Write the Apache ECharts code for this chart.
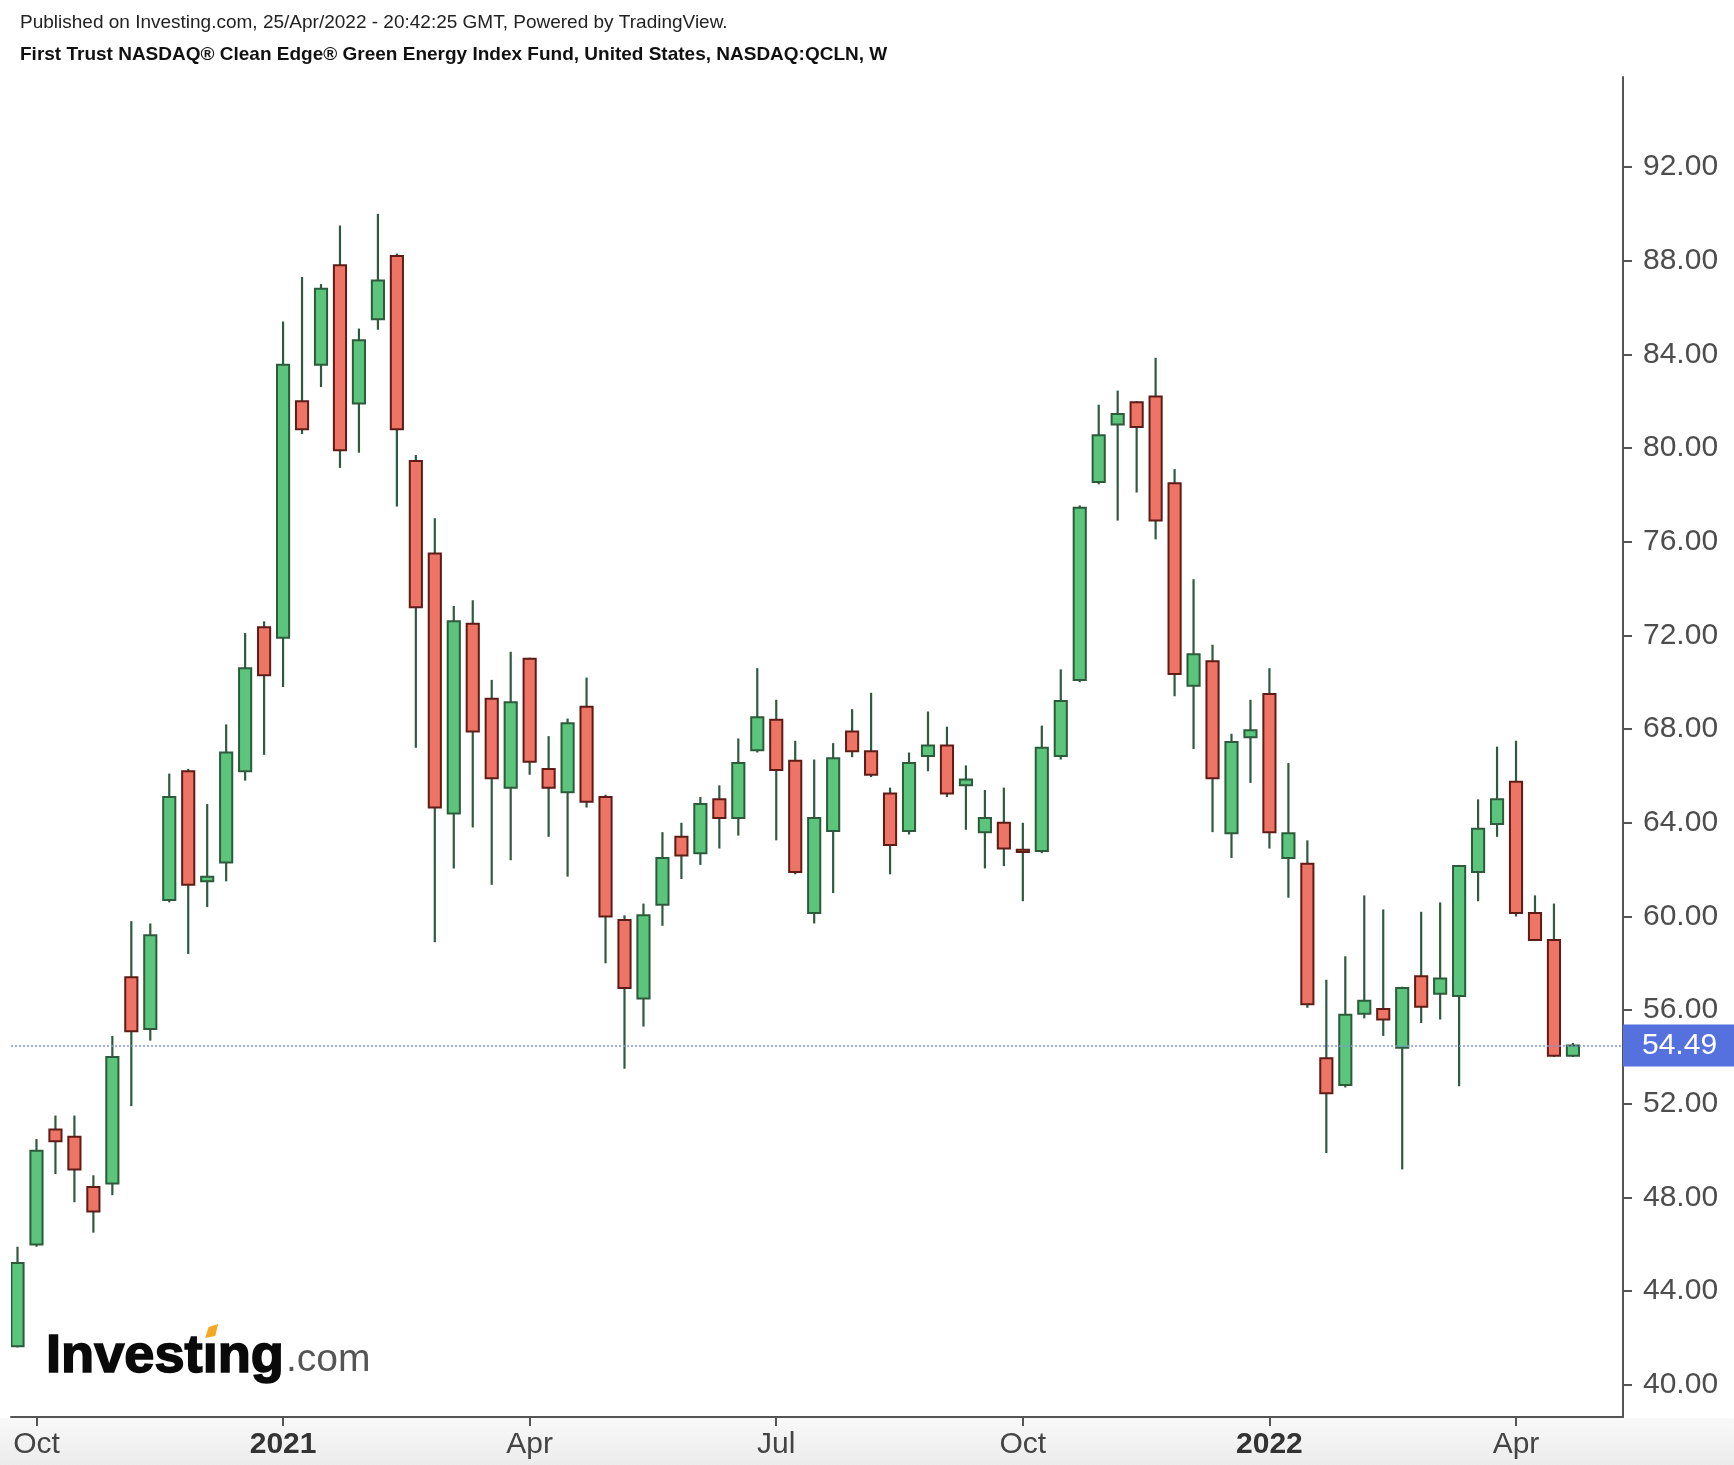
<!DOCTYPE html>
<html>
<head>
<meta charset="utf-8">
<script src="https://cdn.jsdelivr.net/npm/echarts@6/dist/echarts.min.js"></script>
<style>
html,body{margin:0;padding:0;background:#ffffff;}
#chart{width:1734px;height:1465px;}
</style>
</head>
<body>
<div id="chart"></div>
<script>
// ---- Data (weekly bars, QCLN) ----
const dates = [
  '2020-09-28','2020-10-05','2020-10-12','2020-10-19','2020-10-26','2020-11-02','2020-11-09','2020-11-16','2020-11-23','2020-11-30',
  '2020-12-07','2020-12-14','2020-12-21','2020-12-28','2021-01-04','2021-01-11','2021-01-18','2021-01-25','2021-02-01','2021-02-08',
  '2021-02-15','2021-02-22','2021-03-01','2021-03-08','2021-03-15','2021-03-22','2021-03-29','2021-04-05','2021-04-12','2021-04-19',
  '2021-04-26','2021-05-03','2021-05-10','2021-05-17','2021-05-24','2021-05-31','2021-06-07','2021-06-14','2021-06-21','2021-06-28',
  '2021-07-05','2021-07-12','2021-07-19','2021-07-26','2021-08-02','2021-08-09','2021-08-16','2021-08-23','2021-08-30','2021-09-06',
  '2021-09-13','2021-09-20','2021-09-27','2021-10-04','2021-10-11','2021-10-18','2021-10-25','2021-11-01','2021-11-08','2021-11-15',
  '2021-11-22','2021-11-29','2021-12-06','2021-12-13','2021-12-20','2021-12-27','2022-01-03','2022-01-10','2022-01-17','2022-01-24',
  '2022-01-31','2022-02-07','2022-02-14','2022-02-21','2022-02-28','2022-03-07','2022-03-14','2022-03-21','2022-03-28','2022-04-04',
  '2022-04-11','2022-04-18','2022-04-25'
];
const opens = [
  41.65,46.0,50.9,50.6,48.45,48.6,57.4,55.2,60.7,66.2,
  61.5,62.3,66.2,72.35,71.9,82.0,83.55,87.8,81.9,85.5,
  88.2,79.45,75.5,64.4,72.5,69.3,65.5,71.0,66.3,65.3,
  68.95,65.1,59.85,56.5,60.5,63.4,62.7,65.0,64.2,67.1,
  68.4,66.65,60.15,63.65,67.9,67.05,65.25,63.65,66.85,67.3,
  65.6,63.6,64.0,62.85,62.8,66.85,70.1,78.55,81.0,81.95,
  82.2,78.5,69.85,70.9,63.55,67.65,69.5,62.5,62.25,53.95,
  52.8,55.85,56.05,54.4,57.45,56.7,56.6,61.9,63.95,65.75,
  60.15,59.0,54.05
];
const highs = [
  45.9,50.5,51.5,51.5,48.95,54.9,59.8,59.7,66.1,66.3,
  64.8,68.2,72.1,72.6,85.4,87.3,87.0,89.5,85.1,90.0,
  88.3,79.7,77.0,73.25,73.5,70.1,71.3,71.05,67.7,68.45,
  70.2,65.2,60.05,60.55,63.6,64.0,65.1,65.6,67.6,70.6,
  69.25,67.5,66.7,67.4,68.85,69.55,65.5,67.0,68.75,68.1,
  66.45,65.4,65.5,64.0,68.15,70.55,77.55,81.85,82.45,82.0,
  83.85,79.1,74.4,71.6,67.8,69.25,70.6,66.55,63.25,57.3,
  58.3,60.9,60.3,57.0,60.2,60.6,62.2,65.0,67.25,67.5,
  60.9,60.55,54.6
];
const lows = [
  41.6,45.9,49.0,47.8,46.5,48.1,51.9,54.7,60.6,58.4,
  60.4,61.5,65.8,66.9,69.8,80.6,82.6,79.15,79.8,85.05,
  77.5,67.2,58.9,62.05,63.8,61.35,62.4,66.05,63.4,61.7,
  64.65,58.0,53.5,55.3,59.6,61.6,62.2,62.9,63.45,67.0,
  63.25,61.8,59.7,61.0,66.8,65.95,61.8,63.5,66.2,65.1,
  63.7,62.05,62.15,60.65,62.7,66.7,70.0,78.45,76.9,78.1,
  76.1,69.4,67.15,63.6,62.5,65.7,62.9,60.8,56.1,49.9,
  52.7,55.65,54.9,49.2,55.45,55.6,52.75,60.65,63.4,60.0,
  58.95,54.0,54.0
];
const closes = [
  45.2,50.0,50.4,49.2,47.4,54.0,55.1,59.2,65.1,61.35,
  61.7,67.0,70.6,70.3,83.55,80.8,86.8,79.9,84.6,87.15,
  80.8,73.2,64.65,72.6,67.9,65.9,69.15,66.6,65.5,68.25,
  64.9,60.0,56.95,60.05,62.5,62.6,64.8,64.2,66.55,68.5,
  66.25,61.9,64.2,66.75,67.05,66.05,63.05,66.55,67.3,65.25,
  65.85,64.2,62.9,62.75,67.2,69.2,77.45,80.55,81.45,80.9,
  76.9,70.35,71.2,65.9,67.45,67.95,63.6,63.55,56.25,52.45,
  55.8,56.4,55.6,56.95,56.15,57.35,62.15,63.75,65.0,60.15,
  59.0,54.05,54.49
];
const yTickValues = [40,44,48,52,56,60,64,68,72,76,80,84,88,92];
const xTickDates = ['2020-10-05','2021-01-04','2021-04-05','2021-07-05','2021-10-04','2022-01-03','2022-04-04'];
const xTickLabels = ['Oct','2021','Apr','Jul','Oct','2022','Apr'];
const lastPrice = closes[closes.length - 1];

// ---- Build ----
const seriesData = dates.map((d, i) => [i, opens[i], closes[i], lows[i], highs[i]]);
const xTickIdx = xTickDates.map(d => dates.indexOf(d));

const UP_FILL = '#5bc57b', UP_BORDER = '#2c5b3c';
const DOWN_FILL = '#ee7465', DOWN_BORDER = '#5e1c16';
const WICK = '#2f5a3f';

function renderItem(params, api) {
  const i = api.value(0);
  const o = api.value(1), c = api.value(2), l = api.value(3), h = api.value(4);
  const pO = api.coord([i, o]);
  const pC = api.coord([i, c]);
  const pL = api.coord([i, l]);
  const pH = api.coord([i, h]);
  const w = api.size([1, 0])[0] * 0.64;
  const up = c >= o;
  const x = pO[0];
  const top = Math.min(pO[1], pC[1]);
  const bh = Math.max(Math.abs(pO[1] - pC[1]), 1.5);
  return {
    type: 'group',
    children: [
      { type: 'line', shape: { x1: x, y1: pH[1], x2: x, y2: pL[1] },
        style: { stroke: WICK, lineWidth: 2.2 } },
      { type: 'rect', shape: { x: x - w / 2, y: top, width: w, height: bh },
        style: { fill: up ? UP_FILL : DOWN_FILL, stroke: up ? UP_BORDER : DOWN_BORDER, lineWidth: 2 } }
    ]
  };
}

const FONT = '"Liberation Sans", Arial, Helvetica, sans-serif';

// ---- Logo layout (measure text so the orange tittle sits on the "i") ----
const mctx = document.createElement('canvas').getContext('2d');
mctx.font = 'bold 100px ' + FONT;
const LOGO_X = 46, LOGO_W = 238;
const logoSize = 100 * LOGO_W / mctx.measureText('Investing').width;
mctx.font = 'bold ' + logoSize + 'px ' + FONT;
const iCenter = LOGO_X + mctx.measureText('Invest').width + mctx.measureText('i').width / 2;
const comX = LOGO_X + mctx.measureText('Investing').width + 2;

const chart = echarts.init(document.getElementById('chart'), null, { renderer: 'canvas' });
chart.setOption({
  animation: false,
  backgroundColor: '#ffffff',
  textStyle: { fontFamily: FONT },
  grid: { left: 11, right: 111, top: 77, bottom: 48, containLabel: false, outerBoundsMode: 'none' },
  xAxis: {
    type: 'value',
    min: -0.343,
    max: 84.64,
    splitLine: { show: false },
    axisLine: { show: true, onZero: false, lineStyle: { color: '#555555', width: 2 } },
    axisTick: { show: true, customValues: xTickIdx, length: 9, lineStyle: { color: '#555555', width: 2 } },
    axisLabel: {
      customValues: xTickIdx,
      margin: 13,
      fontSize: 30,
      color: '#444444',
      fontFamily: FONT,
      formatter: function (v) {
        const k = xTickIdx.indexOf(Math.round(v));
        if (k < 0) return '';
        const t = xTickLabels[k];
        return /^\d{4}$/.test(t) ? '{b|' + t + '}' : t;
      },
      rich: { b: { fontWeight: 'bold', fontSize: 30, color: '#333333', fontFamily: FONT } }
    }
  },
  yAxis: {
    type: 'value',
    position: 'right',
    min: 38.63,
    max: 95.84,
    splitLine: { show: false },
    axisLine: { show: true, onZero: false, lineStyle: { color: '#555555', width: 2 } },
    axisTick: { show: true, customValues: yTickValues, length: 9, lineStyle: { color: '#555555', width: 2 } },
    axisLabel: {
      customValues: yTickValues,
      margin: 20,
      fontSize: 30,
      color: '#4d4d4d',
      fontFamily: FONT,
      formatter: v => Number(v).toFixed(2)
    }
  },
  graphic: [
    { type: 'rect', z: -10, shape: { x: 0, y: 1418, width: 1734, height: 47 },
      style: { fill: new echarts.graphic.LinearGradient(0, 0, 0, 1, [
        { offset: 0, color: '#f9f9f9' }, { offset: 1, color: '#ececec' }]) } },
    { type: 'text', x: 20, y: 23, style: {
        text: 'Published on Investing.com, 25/Apr/2022 - 20:42:25 GMT, Powered by TradingView.',
        font: '19px ' + FONT, fill: '#222222', verticalAlign: 'middle' } },
    { type: 'text', x: 20, y: 55, style: {
        text: 'First Trust NASDAQ® Clean Edge® Green Energy Index Fund, United States, NASDAQ:QCLN, W',
        font: 'bold 19px ' + FONT, fill: '#111111', verticalAlign: 'middle' } },
    { type: 'text', x: LOGO_X, y: 1357, z: 5, style: {
        text: 'Investing', font: 'bold ' + logoSize + 'px ' + FONT, fill: '#0a0a0a',
        stroke: '#0a0a0a', lineWidth: 1.6, verticalAlign: 'middle' } },
    { type: 'rect', z: 6, shape: { x: iCenter - 7, y: 1325, width: 14, height: 17 },
      style: { fill: '#ffffff' } },
    { type: 'polygon', z: 7, shape: { points: [
        [iCenter - 5, 1338], [iCenter - 1.5, 1327], [iCenter + 8, 1324], [iCenter + 5, 1336]] },
      style: { fill: '#f5a623' } },
    { type: 'text', x: comX, y: 1360, z: 5, style: {
        text: '.com', font: '39px ' + FONT, fill: '#555555', verticalAlign: 'middle' } }
  ],
  series: [
    {
      type: 'custom',
      renderItem: renderItem,
      clip: true,
      encode: { x: 0, y: [1, 2, 3, 4] },
      data: seriesData,
      markLine: {
        silent: true,
        symbol: ['none', 'none'],
        data: [{ yAxis: lastPrice }],
        lineStyle: { color: '#7d93ea', type: [2, 2], width: 1.5 },
        label: {
          show: true,
          position: 'end',
          distance: 0,
          formatter: lastPrice.toFixed(2),
          color: '#ffffff',
          backgroundColor: '#5571dd',
          fontSize: 30,
          fontFamily: FONT,
          padding: [7, 18, 5, 19]
        },
        emphasis: { disabled: true }
      }
    }
  ]
});
</script>
</body>
</html>
